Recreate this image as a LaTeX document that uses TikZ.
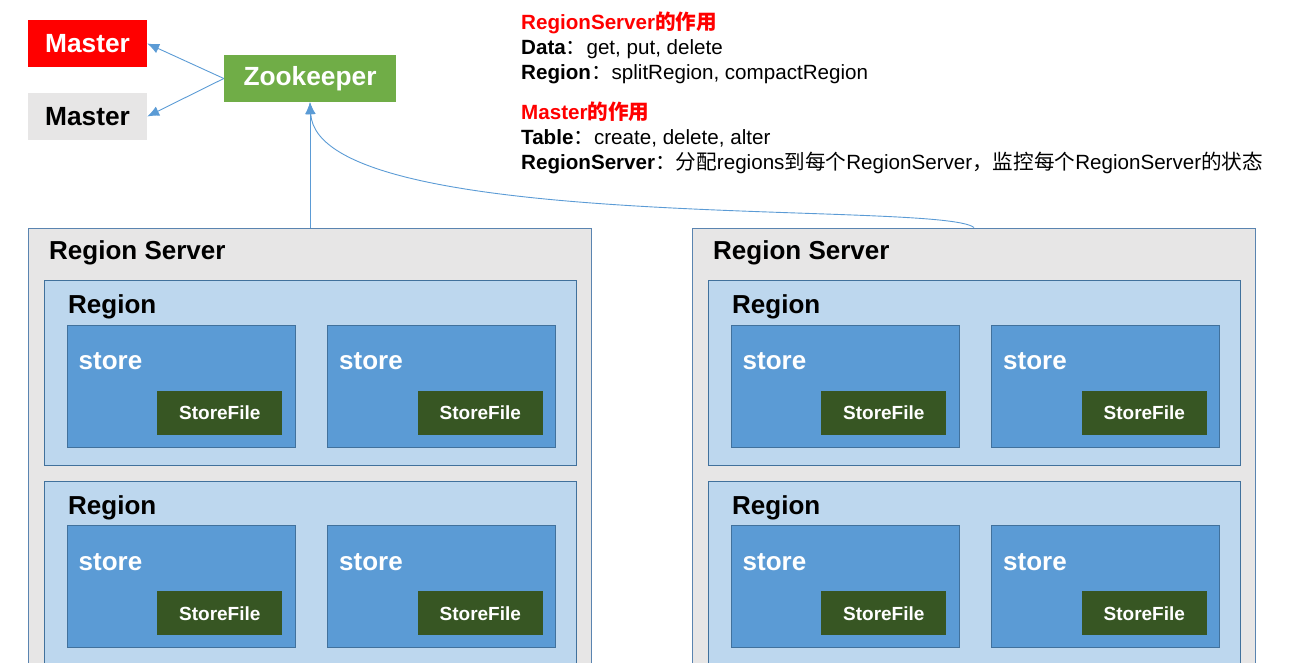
\documentclass[tikz,border=0pt]{standalone}
\usepackage{fontspec}
\setmainfont{Liberation Sans}
\newfontfamily\cjk{Noto Sans CJK SC}
\usetikzlibrary{arrows.meta,positioning,calc}

\definecolor{mred}{HTML}{FF0000}
\definecolor{mgray}{HTML}{E7E6E6}
\definecolor{zkgreen}{HTML}{70AD47}
\definecolor{rsline}{HTML}{5A84B0}
\definecolor{regfill}{HTML}{BDD7EE}
\definecolor{regline}{HTML}{41719C}
\definecolor{storefill}{HTML}{5B9BD5}
\definecolor{sfgreen}{HTML}{375623}
\definecolor{linkblue}{HTML}{5B9BD5}

\tikzset{
  big/.style={font=\fontsize{26}{30}\selectfont\bfseries},
  master/.style={minimum width=119pt, minimum height=47pt, inner sep=0pt, font=\fontsize{26.3}{30}\selectfont\bfseries},
  rsbox/.style={draw=rsline, line width=1pt, fill=mgray, anchor=north west, minimum width=563pt, minimum height=480pt, inner sep=0pt,
    label={[big, anchor=base west, inner sep=0pt, xshift=21pt, yshift=-32pt]north west:Region Server}},
  regbox/.style={draw=regline, line width=1pt, fill=regfill, anchor=north west, minimum width=532pt, minimum height=185pt, inner sep=0pt,
    label={[big, anchor=base west, inner sep=0pt, xshift=24pt, yshift=-33pt]north west:Region}},
  storebox/.style={draw=regline, line width=1pt, fill=storefill, anchor=north west, minimum width=228pt, minimum height=122pt, inner sep=0pt,
    label={[big, text=white, anchor=base west, inner sep=0pt, xshift=12pt, yshift=-45pt]north west:store}},
  sfbox/.style={fill=sfgreen, text=white, minimum width=125pt, minimum height=44pt, inner sep=0pt, font=\fontsize{19}{22}\selectfont\bfseries},
  note/.style={anchor=base west, inner sep=0pt, font=\fontsize{20.6}{24}\selectfont},
  link/.style={draw=linkblue, line width=0.9pt, -{Latex[length=12pt,width=10pt]}}
}

\begin{document}
\begin{tikzpicture}[x=1pt,y=-1pt]
\useasboundingbox (0,0) rectangle (1311,663);
\clip (0,0) rectangle (1311,663);

\node[master, fill=mred, text=white] (m1) at (87.5,43.5) {Master};
\node[master, fill=mgray] (m2) at (87.5,116.5) {Master};
\node[master, fill=zkgreen, text=white, minimum width=172pt] (zk) at (310,78.5) {Zookeeper};

\node[note, text=mred] (nrs) at (521,30) {\textbf{RegionServer}{\cjk\bfseries 的作用}};
\node[note] (ndata) at (521,55) {\textbf{Data}{\cjk ：}get, put, delete};
\node[note] (nreg) at (521,80) {\textbf{Region}{\cjk ：}splitRegion, compactRegion};
\node[note, text=mred] (nmaster) at (521,120) {\textbf{Master}{\cjk\bfseries 的作用}};
\node[note] (ntable) at (521,145) {\textbf{Table}{\cjk ：}create, delete, alter};
\node[note] (nrole) at (521,170) {\textbf{RegionServer}{\cjk ：分配}regions{\cjk 到每个}RegionServer{\cjk ，监控每个}RegionServer{\cjk 的状态}};

\node[rsbox] (rs1) at (28,227.5) {};
\node[rsbox] (rs2) at (692,227.5) {};

\node[regbox] (reg11) at (44,280) {};
\node[regbox] (reg12) at (44,481) {};
\node[regbox] (reg21) at (708,280) {};
\node[regbox] (reg22) at (708,481) {};

\node[storebox] (st111) at (66.5,324.5) {};
\node[storebox] (st112) at (327,324.5) {};
\node[storebox] (st121) at (66.5,525) {};
\node[storebox] (st122) at (327,525) {};
\node[storebox] (st211) at (730.5,324.5) {};
\node[storebox] (st212) at (991,324.5) {};
\node[storebox] (st221) at (730.5,525) {};
\node[storebox] (st222) at (991,525) {};

\node[sfbox, above left=12.5pt and 13pt of st111.south east] (sf111) {StoreFile};
\node[sfbox, above left=12.5pt and 13pt of st112.south east] (sf112) {StoreFile};
\node[sfbox, above left=12.5pt and 13pt of st121.south east] (sf121) {StoreFile};
\node[sfbox, above left=12.5pt and 13pt of st122.south east] (sf122) {StoreFile};
\node[sfbox, above left=12.5pt and 13pt of st211.south east] (sf211) {StoreFile};
\node[sfbox, above left=12.5pt and 13pt of st212.south east] (sf212) {StoreFile};
\node[sfbox, above left=12.5pt and 13pt of st221.south east] (sf221) {StoreFile};
\node[sfbox, above left=12.5pt and 13pt of st222.south east] (sf222) {StoreFile};

\draw[link] (zk.west) -- (m1.east);
\draw[link] (zk.west) -- (m2.east);
\draw[link] (rs1.north) -- (zk.south);
\draw[link] (rs2.north) .. controls (940,200) and (318,235) .. (zk.south);
\end{tikzpicture}
\end{document}
